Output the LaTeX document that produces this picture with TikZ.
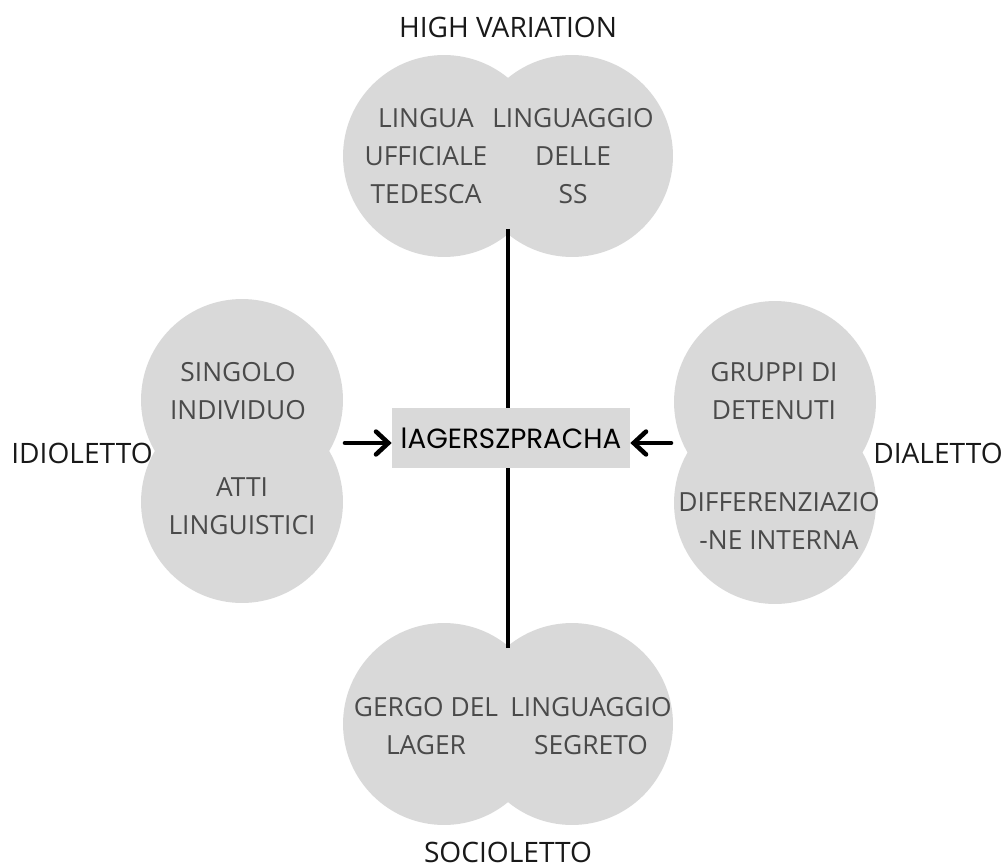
\documentclass[tikz,border=0pt]{standalone}
\usepackage{fontspec}
\setmainfont{Open Sans}
\newfontfamily\centrefont{Poppins}
\usetikzlibrary{arrows.meta, positioning}
\definecolor{blobgray}{HTML}{D9D9D9}
\definecolor{inktext}{HTML}{4A4A4A}
\tikzset{
    blob/.style={
        circle, fill=blobgray, draw=none,
        minimum size=4.04cm, inner sep=0pt
    },
    blobtext/.style={
        align=center, text=inktext,
        font=\fontsize{15}{21.5}\selectfont
    },
    varlabel/.style={
        text=black!90, inner sep=0pt, anchor=base,
        font=\fontsize{16}{19}\selectfont
    },
    centrebox/.style={
        rectangle, fill=blobgray, draw=none,
        minimum width=4.76cm, minimum height=1.2cm,
        font=\centrefont\fontsize{15.8}{18}\selectfont
    },
    axis/.style={draw=black, line width=2.6pt},
    feed/.style={draw=black, line width=2.6pt, line cap=round,
        -{Straight Barb[length=7pt, width=13pt, line cap=round]}}
}

\begin{document}
\begin{tikzpicture}[x=0.02cm, y=-0.02cm]
\useasboundingbox (0,0) rectangle (1007,868);

% High variation (top)
\node[blob] (hvl) at (444,156) {};
\node[blob] (hvr) at (572,156) {};
\node[blobtext] (hvlt) at (426,156) {LINGUA\\UFFICIALE\\TEDESCA};
\node[blobtext] (hvrt) at (573,156) {LINGUAGGIO\\DELLE\\SS};
\node[varlabel] (hv) at (508,38) {HIGH VARIATION};

% Idioletto (left)
\node[blob] (idt) at (242,400) {};
\node[blob] (idb) at (242,502) {};
\node[blobtext] (idtt) at (238,391) {SINGOLO\\INDIVIDUO};
\node[blobtext] (idbt) at (242,506) {ATTI\\LINGUISTICI};
\node[varlabel] (id) at (82,463) {IDIOLETTO};

% Dialetto (right)
\node[blob] (dit) at (775,402) {};
\node[blob] (dib) at (775,503) {};
\node[blobtext] (ditt) at (774,391) {GRUPPI DI\\DETENUTI};
\node[blobtext] (dibt) at (779,521) {DIFFERENZIAZIO\\-NE INTERNA};
\node[varlabel] (di) at (938,463) {DIALETTO};

% Socioletto (bottom)
\node[blob] (sol) at (444,724) {};
\node[blob] (sor) at (572,724) {};
\node[blobtext] (solt) at (426,726) {GERGO DEL\\LAGER};
\node[blobtext] (sort) at (591,726) {LINGUAGGIO\\SEGRETO};
\node[varlabel] (so) at (508,862) {SOCIOLETTO};

% Centre
\node[centrebox] (lager) at (511,438) {lAGERSZPRACHA};

\coordinate (hvend) at (508,229);
\coordinate (soend) at (508,648);
\coordinate (idend) at (345,443);
\coordinate (diend) at (671,443);

\draw[axis] (hvend) -- (hvend |- lager.north);
\draw[axis] (soend) -- (soend |- lager.south);
\draw[feed] (idend) -- (idend -| lager.west);
\draw[feed] (diend) -- (diend -| lager.east);

\end{tikzpicture}
\end{document}
